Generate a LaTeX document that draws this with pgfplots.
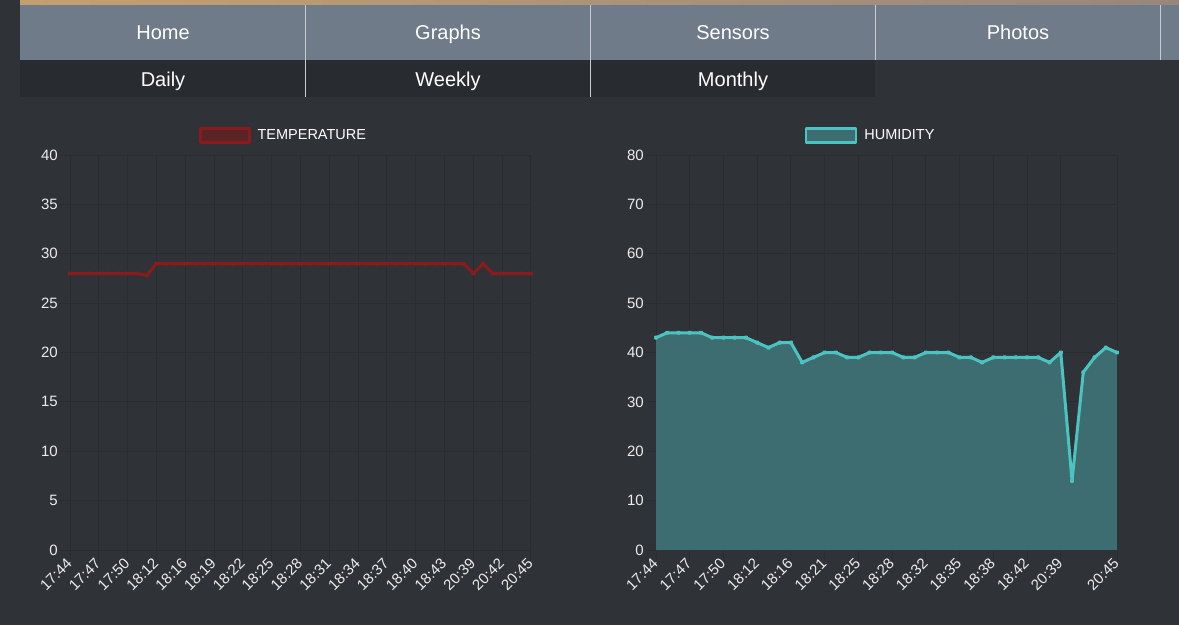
\documentclass[border=0pt]{standalone}
\usepackage{pgfplots}
\pgfplotsset{compat=1.18}
\usepackage{fontspec}
\setmainfont{Liberation Sans}
\definecolor{pagebg}{HTML}{2F3337}
\definecolor{navtop}{HTML}{6F7B88}
\definecolor{navrow}{HTML}{282C30}
\definecolor{sepcol}{HTML}{C8CCD0}
\definecolor{gridcol}{HTML}{292D31}
\definecolor{tickcol}{HTML}{ECECEC}
\definecolor{tempred}{HTML}{8B1A1C}
\definecolor{tempfill}{HTML}{5A2427}
\definecolor{tempdot}{HTML}{D89A9A}
\definecolor{humline}{HTML}{4BC3C0}
\definecolor{humfill}{HTML}{3D6D70}
\definecolor{humdot}{HTML}{D8F4F2}

\pgfplotstableread{
x y
0 28
1 28
2 28
3 28
4 28
5 28
6 28
7 28
8 27.8
9 29
10 29
11 29
12 29
13 29
14 29
15 29
16 29
17 29
18 29
19 29
20 29
21 29
22 29
23 29
24 29
25 29
26 29
27 29
28 29
29 29
30 29
31 29
32 29
33 29
34 29
35 29
36 29
37 29
38 29
39 29
40 29
41 29
42 28
43 29
44 28
45 28
46 28
47 28
48 28
}\temptable

\pgfplotstableread{
x y
0 43
1 44
2 44
3 44
4 44
5 43
6 43
7 43
8 43
9 42
10 41
11 42
12 42
13 38
14 39
15 40
16 40
17 39
18 39
19 40
20 40
21 40
22 39
23 39
24 40
25 40
26 40
27 39
28 39
29 38
30 39
31 39
32 39
33 39
34 39
35 38
36 40
37 14
38 36
39 39
40 41
41 40
}\humtable

\pgfplotsset{
  darkchart/.style={
    scale only axis,
    width=461pt, height=395pt,
    anchor=south west,
    axis background/.style={fill=none},
    axis line style={draw=gridcol, line width=1pt},
    grid=major,
    major grid style={draw=gridcol, line width=1pt},
    tick pos=left,
    tick align=outside,
    major tick length=10pt,
    tick style={draw=gridcol, line width=1pt},
    /pgf/number format/assume math mode=true,
    ticklabel style={text=tickcol, font=\fontsize{15}{18}\selectfont},
    yticklabel style={inner sep=2pt},
    xticklabel style={rotate=45, anchor=east, inner sep=1pt},
    legend style={draw=none, fill=none, text=white, inner sep=0pt, outer sep=0pt,
      font=\fontsize{14.5}{17}\selectfont, anchor=west,
      /tikz/every odd column/.append style={column sep=5pt}},
  }
}

\begin{document}
\begin{tikzpicture}[x=1pt,y=1pt]
\fill[pagebg] (0,0) rectangle (1179,625);
% navigation bar
\shade[left color={rgb,255:red,196;green,160;blue,112}, right color={rgb,255:red,150;green,135;blue,125}] (20,619) rectangle (1179,625);
\fill[navtop] (20,565) rectangle (1179,620);
\fill[navrow] (20,528) rectangle (875,565);
\draw[sepcol, line width=1pt] (305,620) -- (305,528);
\draw[sepcol, line width=1pt] (590,620) -- (590,528);
\draw[sepcol, line width=1pt] (875,620) -- (875,565);
\draw[sepcol, line width=1pt] (1160,620) -- (1160,565);
\begin{scope}[every node/.style={text=white, font=\fontsize{20}{24}\selectfont, anchor=base, inner sep=0pt}]
\node at (163,585) {Home};
\node at (448,585) {Graphs};
\node at (733,585) {Sensors};
\node at (1018,585) {Photos};
\node at (163,538) {Daily};
\node at (448,538) {Weekly};
\node at (733,538) {Monthly};
\end{scope}

% temperature chart
\begin{axis}[darkchart,
  at={(70pt,75pt)},
  xmin=0, xmax=48, ymin=0, ymax=40,
  ytick={0,5,...,40},
  xtick={0,3,...,48},
  xticklabels={17:44,17:47,17:50,18:12,18:16,18:19,18:22,18:25,18:28,18:31,18:34,18:37,18:40,18:43,20:39,20:42,20:45},
  legend style={at={(axis description cs:0.28,1.049)}},
  legend image code/.code={\draw[line width=2.5pt, draw=tempred, fill=tempfill] (0pt,-7pt) rectangle (49pt,7pt);},
]
\addplot[color=tempred, line width=3pt, line join=round, mark=*, mark size=0.9pt,
  mark options={fill=tempdot, draw=none}] table[x=x,y=y] {\temptable};
\addlegendentry{TEMPERATURE}
\end{axis}

% humidity chart
\begin{axis}[darkchart,
  at={(656pt,75pt)},
  xmin=0, xmax=41, ymin=0, ymax=80,
  ytick={0,10,...,80},
  xtick={0,3,6,9,12,15,18,21,24,27,30,33,36,41},
  xticklabels={17:44,17:47,17:50,18:12,18:16,18:21,18:25,18:28,18:32,18:35,18:38,18:42,20:39,20:45},
  legend style={at={(axis description cs:0.323,1.049)}},
  legend image code/.code={\draw[line width=2.5pt, draw=humline, fill=humfill] (0pt,-7pt) rectangle (50pt,7pt);},
]
\addplot[fill=humfill, draw=none, forget plot] table[x=x,y=y] {\humtable} \closedcycle;
\addplot[color=humline, line width=3pt, line join=round, mark=*, mark size=0.9pt,
  mark options={fill=humdot, draw=none}] table[x=x,y=y] {\humtable};
\addlegendentry{HUMIDITY}
\end{axis}
\pgfresetboundingbox
\useasboundingbox (0,0) rectangle (1179,625);
\end{tikzpicture}
\end{document}
